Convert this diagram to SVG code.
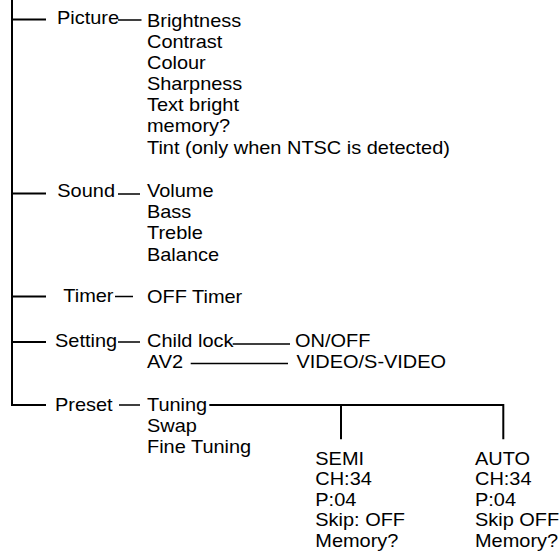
<svg xmlns="http://www.w3.org/2000/svg" width="560" height="553" viewBox="0 0 560 553">
<style>
text{font-family:"Liberation Sans",Arial,Helvetica,sans-serif;font-size:19px;fill:#000}
.ln{stroke:#000;stroke-width:2;fill:none}
.sh{stroke:#000;stroke-width:1.7;fill:none}
</style>
<rect width="560" height="553" fill="#fff"/>
<g id="connectors">
<path class="ln" d="M12 0V405H46"/>
<path class="ln" d="M12 19.5H46M12 193.5H46M12 296.5H46M12 342H46"/>
<path class="sh" d="M118 20H141.5M118 194H140M115 296.5H133M118 342H140M119 405H140"/>
<path class="sh" d="M232.7 344H290M190.7 363.5H288"/>
<path class="ln" d="M209.3 405H503.3V439.3M341 405V439.3"/>
</g>
<g id="picture" transform="scale(1.05 1)"><text x="54.3" y="24">Picture</text></g>
<g id="picture-items" transform="scale(1.05 1)">
<text x="140" y="26.7">Brightness</text>
<text x="140" y="47.8">Contrast</text>
<text x="140" y="69">Colour</text>
<text x="140" y="90.1">Sharpness</text>
<text x="140" y="111.3">Text bright</text>
<text x="140" y="132.4">memory?</text>
<text x="140" y="153.6">Tint (only when NTSC is detected)</text>
</g>
<g id="sound" transform="scale(1.05 1)"><text x="54.6" y="197.3">Sound</text></g>
<g id="sound-items" transform="scale(1.05 1)">
<text x="140" y="196.7">Volume</text>
<text x="140" y="218">Bass</text>
<text x="140" y="239.3">Treble</text>
<text x="140" y="260.6">Balance</text>
</g>
<g id="timer" transform="scale(1.05 1)"><text x="60.3" y="302">Timer</text></g>
<g id="timer-items" transform="scale(1.05 1)"><text x="140" y="303">OFF Timer</text></g>
<g id="setting" transform="scale(1.05 1)"><text x="52.4" y="346.7">Setting</text></g>
<g id="setting-items" transform="scale(1.05 1)">
<text x="140" y="346.7">Child lock</text>
<text x="140" y="368">AV2</text>
</g>
<g id="onoff" transform="scale(1.05 1)"><text x="281" y="347">ON/OFF</text></g>
<g id="video" transform="scale(1.05 1)"><text x="282.4" y="368">VIDEO/S-VIDEO</text></g>
<g id="preset" transform="scale(1.05 1)"><text x="52.4" y="410.7">Preset</text></g>
<g id="preset-items" transform="scale(1.05 1)">
<text x="140" y="410.7">Tuning</text>
<text x="140" y="432">Swap</text>
<text x="140" y="453">Fine Tuning</text>
</g>
<g id="semi" transform="scale(1.05 1)">
<text x="300.3" y="465">SEMI</text>
<text x="300.3" y="485.4">CH:34</text>
<text x="300.3" y="505.8">P:04</text>
<text x="300.3" y="526.2">Skip: OFF</text>
<text x="300.3" y="546.6">Memory?</text>
</g>
<g id="auto" transform="scale(1.05 1)">
<text x="452.4" y="465">AUTO</text>
<text x="452.4" y="485.4">CH:34</text>
<text x="452.4" y="505.8">P:04</text>
<text x="452.4" y="526.2">Skip OFF</text>
<text x="452.4" y="546.6">Memory?</text>
</g>
</svg>
